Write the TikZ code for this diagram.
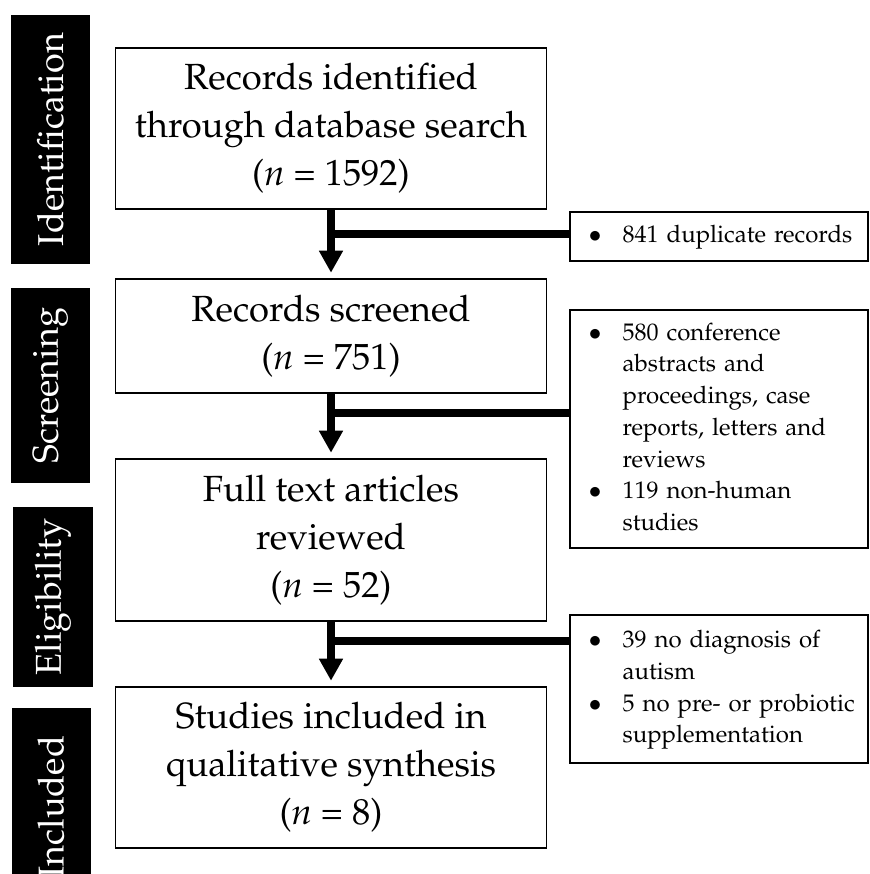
\documentclass[tikz,border=0pt]{standalone}
\usepackage[T1]{fontenc}
\usepackage{mathpazo}
\usetikzlibrary{arrows.meta,calc}

\begin{document}
\begin{tikzpicture}[x=0.75pt, y=-0.75pt,
    stagebox/.style={draw, line width=1.4pt, inner sep=0pt, minimum width=323.25pt,
      align=center, font=\fontsize{27.3}{36}\selectfont},
    exbox/.style={draw, line width=1.4pt, inner xsep=14pt, inner ysep=0pt,
      minimum width=223.5pt, text width=195.5pt, align=left,
      font=\fontsize{18}{23.8}\selectfont},
    phase/.style={fill=black, text=white, rotate=90, inner sep=0pt,
      minimum height=59.25pt, font=\fontsize{27}{30}\selectfont},
    flow/.style={line width=6pt, -{Triangle[length=16.5pt,width=17pt]}, shorten >=4pt},
    branch/.style={line width=6pt}]

    \useasboundingbox (0,0) rectangle (869,874);
    \clip (0,0) rectangle (869,874);

    % Phase bars on the left
    \node[phase, minimum width=186.75pt] (identbar) at (50.5,139.5) {Identification};
    \node[phase, minimum width=146.25pt] (screenbar) at (50.5,385.5) {Screening};
    \node[phase, minimum width=135pt, minimum height=60pt] (eligbar) at (53,597) {Eligibility};
    \node[phase, minimum width=148.5pt] (inclbar) at (51,807) {Included};

    % Main flow boxes
    \node[stagebox, minimum height=120.75pt] (identbox) at (331,128.5)
      {Records identified\\through database search\\(\textit{n} = 1592)};
    \node[stagebox, minimum height=85.5pt] (screenbox) at (331,336)
      {Records screened\\(\textit{n} = 751)};
    \node[stagebox, minimum height=121.5pt] (eligbox) at (331,540)
      {Full text articles\\reviewed\\(\textit{n} = 52)};
    \node[stagebox, minimum height=120.75pt] (inclbox) at (331,767.5)
      {Studies included in\\qualitative synthesis\\(\textit{n} = 8)};

    % Exclusion boxes on the right
    \node[exbox, minimum height=36.75pt] (duplout) at (719,236.5)
      {\begin{tabular}{@{}p{25.5pt}@{}l@{}}
        $\bullet$ & 841 duplicate records
      \end{tabular}};
    \node[exbox, minimum height=178.5pt] (screenout) at (719,429)
      {\begin{tabular}{@{}p{25.5pt}@{}l@{}}
        $\bullet$ & 580 conference\\
         & abstracts and\\
         & proceedings, case\\
         & reports, letters and\\
         & reviews\\
        $\bullet$ & 119 non-human\\
         & studies
      \end{tabular}};
    \node[exbox, minimum height=111pt] (eligout) at (719,689)
      {\begin{tabular}{@{}p{25.5pt}@{}l@{}}
        $\bullet$ & 39 no diagnosis of\\
         & autism\\
        $\bullet$ & 5 no pre- or probiotic\\
         & supplementation
      \end{tabular}};

    % Arrows down and branches out
    \coordinate (cut1) at ($(identbox.south)!0.36!(screenbox.north)$);
    \coordinate (cut2) at ($(screenbox.south)!0.3!(eligbox.north)$);
    \coordinate (cut3) at ($(eligbox.south)!0.29!(inclbox.north)$);
    \draw[branch] (cut1) -- (cut1 -| duplout.west);
    \draw[branch] (cut2) -- (cut2 -| screenout.west);
    \draw[branch] (cut3) -- (cut3 -| eligout.west);
    \draw[flow] (identbox.south) -- (screenbox.north);
    \draw[flow] (screenbox.south) -- (eligbox.north);
    \draw[flow] (eligbox.south) -- (inclbox.north);
\end{tikzpicture}
\end{document}
